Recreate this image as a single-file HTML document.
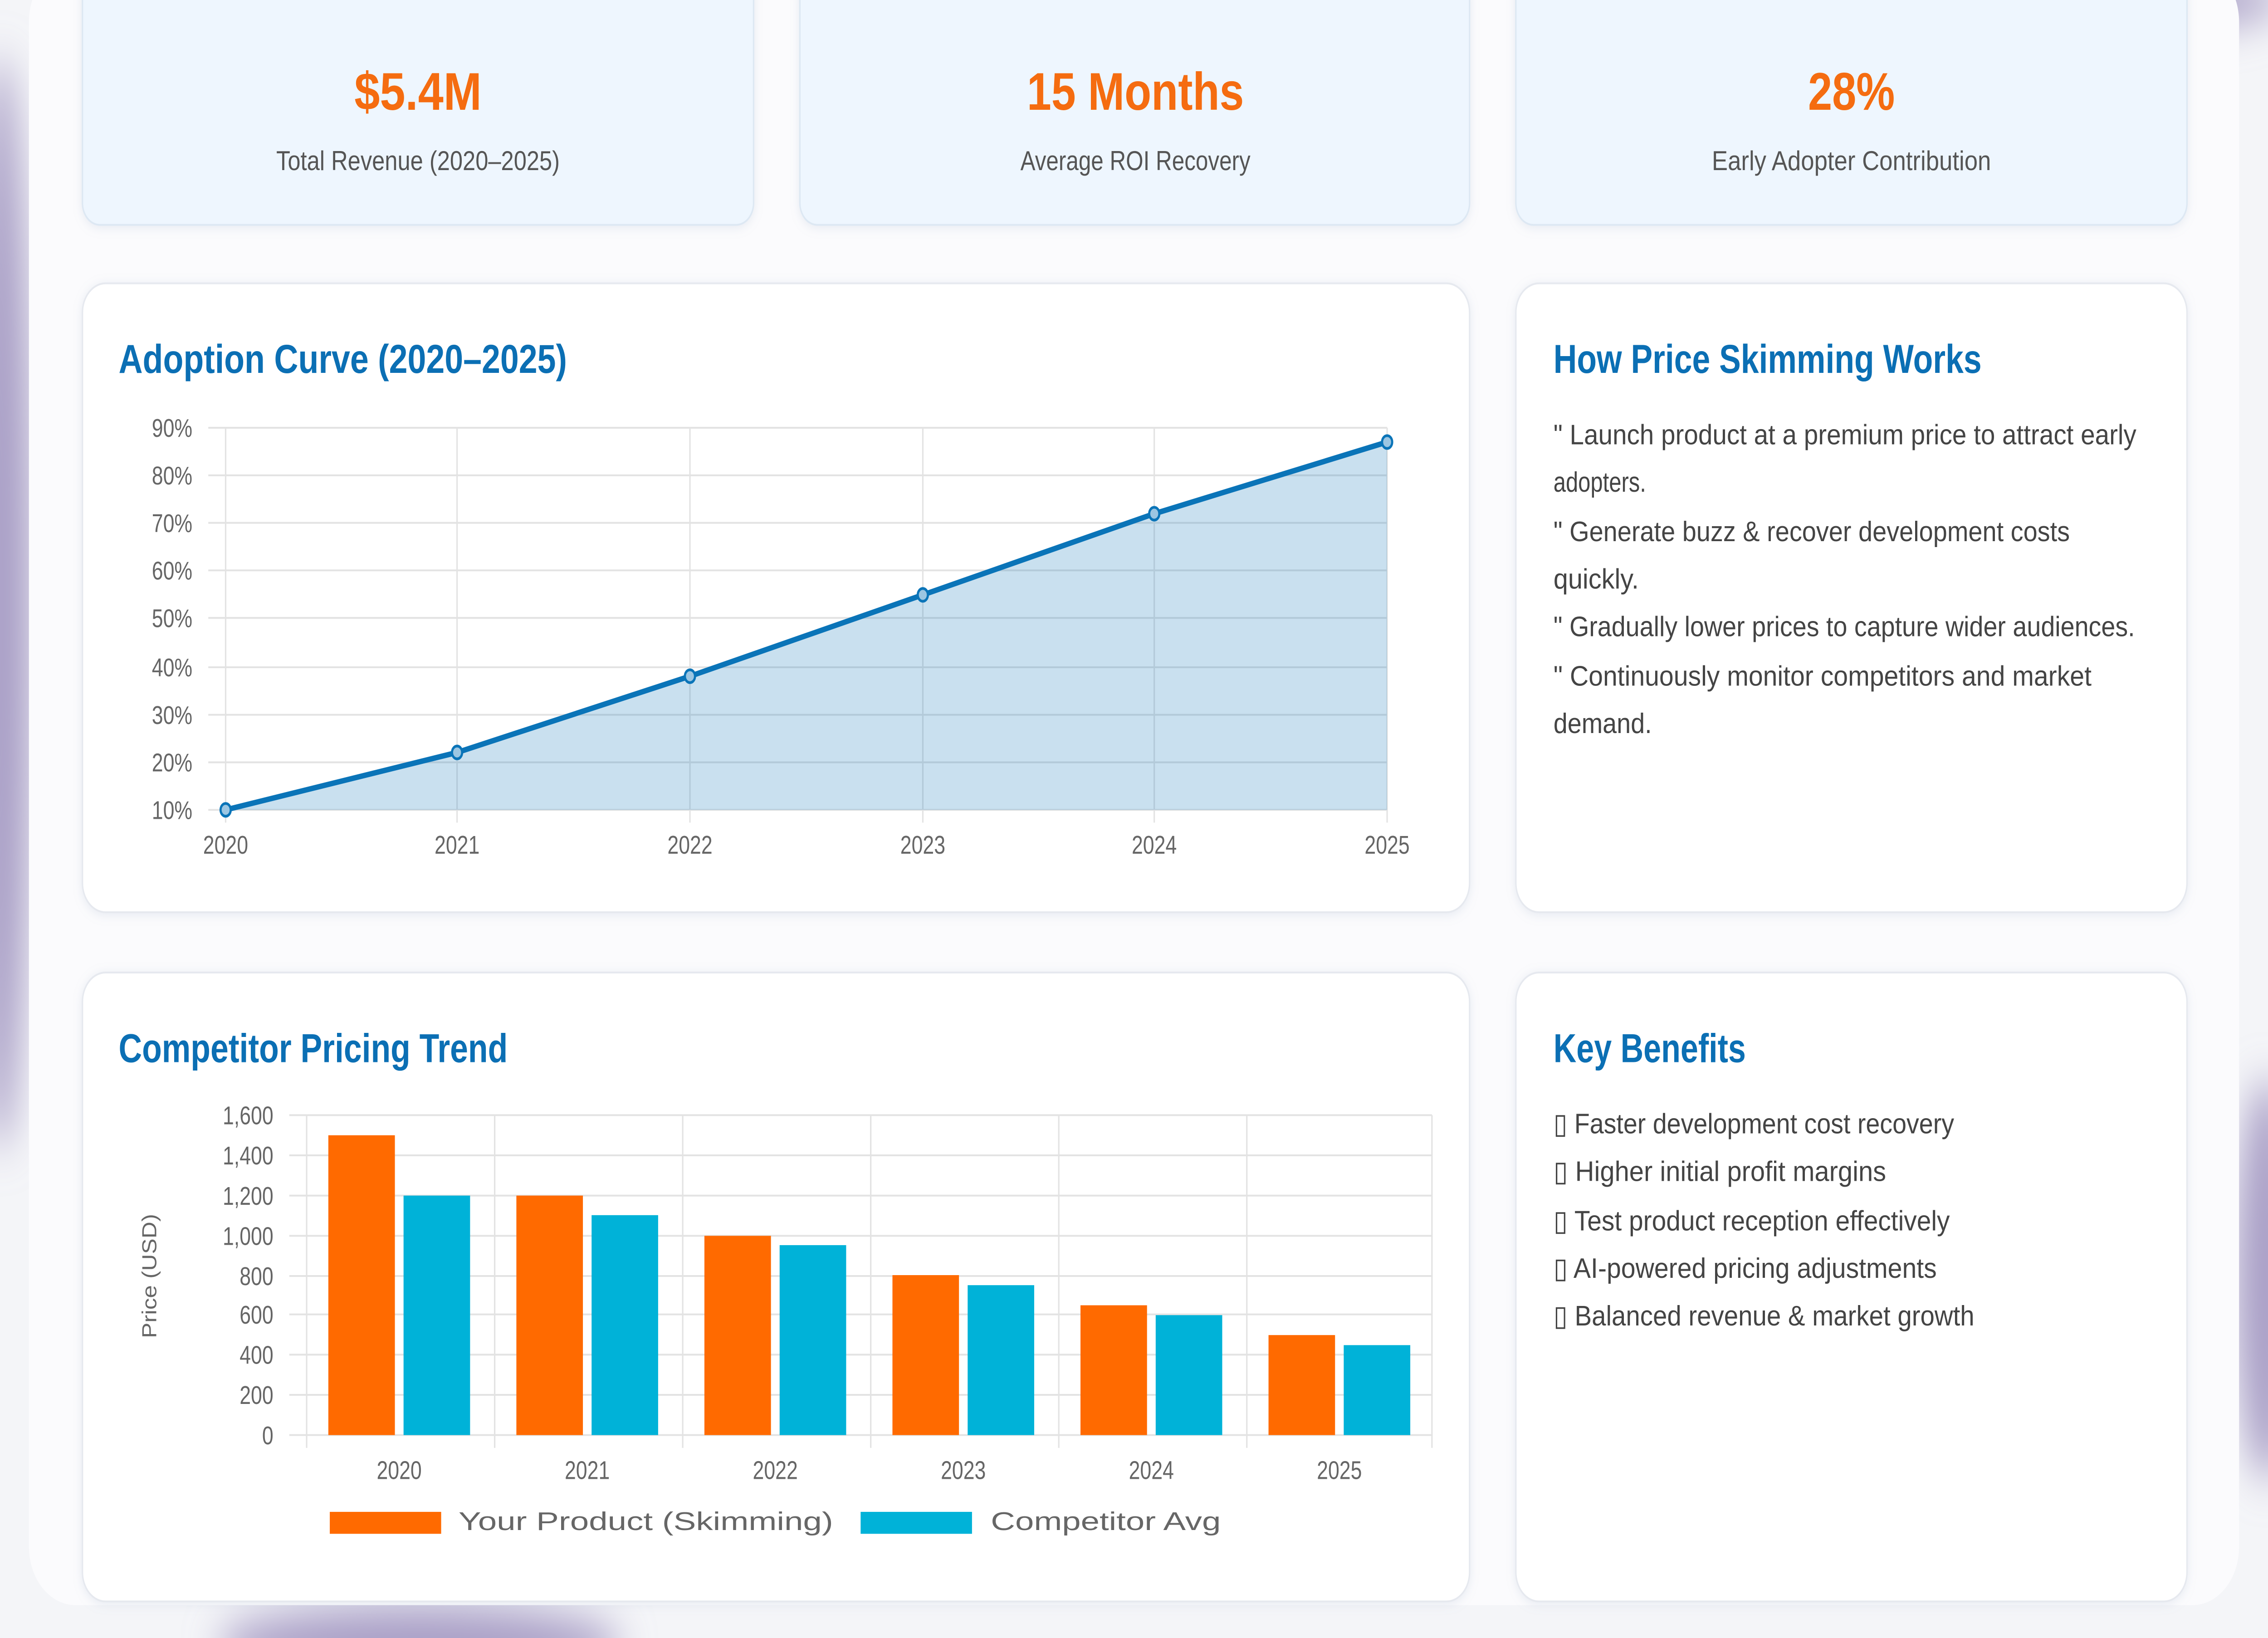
<!DOCTYPE html>
<html><head><meta charset="utf-8"><style>
html,body{margin:0;padding:0;width:100vw;height:100vh;overflow:hidden;background:#f4f5f8}
svg{display:block;width:100vw;height:100vh}
text{font-family:"Liberation Sans",sans-serif}
</style></head><body>
<svg viewBox="0 0 1568 896" preserveAspectRatio="none" xmlns="http://www.w3.org/2000/svg">
<defs>
<filter id="blur" x="-50%" y="-50%" width="200%" height="200%"><feGaussianBlur stdDeviation="12"/></filter>
<filter id="sh" x="-10%" y="-10%" width="120%" height="120%"><feDropShadow dx="0" dy="1" stdDeviation="3" flood-color="#8899bb" flood-opacity="0.18"/></filter>
</defs>
<rect width="1568" height="896" fill="#f4f5f8"/>
<g filter="url(#blur)" fill="#a99fc6">
<ellipse cx="1360" cy="0" rx="220" ry="22"/>
<ellipse cx="0" cy="330" rx="22" ry="300"/>
<ellipse cx="290" cy="900" rx="140" ry="22"/>
<ellipse cx="1568" cy="700" rx="22" ry="110"/>
</g>
<rect x="20" y="-20" width="1528" height="898" rx="32" fill="#fbfbfd"/>
<g filter="url(#sh)">
<rect x="57" y="-14" width="464" height="137" rx="12" fill="#eef6fe" stroke="#dde8f3"/>
<rect x="553" y="-14" width="463" height="137" rx="12" fill="#eef6fe" stroke="#dde8f3"/>
<rect x="1048" y="-14" width="464" height="137" rx="12" fill="#eef6fe" stroke="#dde8f3"/>
</g>
<g font-weight="bold" font-size="29" fill="#f56c10" text-anchor="middle">
<text x="289" y="60" textLength="88" lengthAdjust="spacingAndGlyphs">$5.4M</text>
<text x="785" y="60" textLength="150" lengthAdjust="spacingAndGlyphs">15 Months</text>
<text x="1280" y="60" textLength="60" lengthAdjust="spacingAndGlyphs">28%</text>
</g>
<g font-size="15" fill="#555" text-anchor="middle">
<text x="289" y="93" textLength="196" lengthAdjust="spacingAndGlyphs">Total Revenue (2020–2025)</text>
<text x="785" y="93" textLength="159" lengthAdjust="spacingAndGlyphs">Average ROI Recovery</text>
<text x="1280" y="93" textLength="193" lengthAdjust="spacingAndGlyphs">Early Adopter Contribution</text>
</g>
<g filter="url(#sh)" fill="#fff" stroke="#e6e9ef">
<rect x="57" y="155" width="959" height="344" rx="16"/>
<rect x="1048" y="155" width="464" height="344" rx="16"/>
<rect x="57" y="532" width="959" height="344" rx="16"/>
<rect x="1048" y="532" width="464" height="344" rx="16"/>
</g>
<g font-weight="bold" font-size="22" fill="#0b6fb4">
<text x="82" y="204" textLength="310" lengthAdjust="spacingAndGlyphs">Adoption Curve (2020–2025)</text>
<text x="1074" y="204" textLength="296" lengthAdjust="spacingAndGlyphs">How Price Skimming Works</text>
<text x="82" y="581" textLength="269" lengthAdjust="spacingAndGlyphs">Competitor Pricing Trend</text>
<text x="1074" y="581" textLength="133" lengthAdjust="spacingAndGlyphs">Key Benefits</text>
</g>
<g font-size="15.5" fill="#444">
<text x="1074" y="243" textLength="403" lengthAdjust="spacingAndGlyphs">" Launch product at a premium price to attract early</text>
<text x="1074" y="269" textLength="64" lengthAdjust="spacingAndGlyphs">adopters.</text>
<text x="1074" y="296" textLength="357" lengthAdjust="spacingAndGlyphs">" Generate buzz &amp; recover development costs</text>
<text x="1074" y="322" textLength="59" lengthAdjust="spacingAndGlyphs">quickly.</text>
<text x="1074" y="348" textLength="402" lengthAdjust="spacingAndGlyphs">" Gradually lower prices to capture wider audiences.</text>
<text x="1074" y="375" textLength="372" lengthAdjust="spacingAndGlyphs">" Continuously monitor competitors and market</text>
<text x="1074" y="401" textLength="68" lengthAdjust="spacingAndGlyphs">demand.</text>
<text x="1074" y="620" textLength="277" lengthAdjust="spacingAndGlyphs">▯ Faster development cost recovery</text>
<text x="1074" y="646" textLength="230" lengthAdjust="spacingAndGlyphs">▯ Higher initial profit margins</text>
<text x="1074" y="673" textLength="274" lengthAdjust="spacingAndGlyphs">▯ Test product reception effectively</text>
<text x="1074" y="699" textLength="265" lengthAdjust="spacingAndGlyphs">▯ AI-powered pricing adjustments</text>
<text x="1074" y="725" textLength="291" lengthAdjust="spacingAndGlyphs">▯ Balanced revenue &amp; market growth</text>
</g>
<g stroke="#e3e3e3" stroke-width="1">
<line x1="144" y1="234" x2="959" y2="234"/><line x1="144" y1="260" x2="959" y2="260"/>
<line x1="144" y1="286" x2="959" y2="286"/><line x1="144" y1="312" x2="959" y2="312"/>
<line x1="144" y1="338" x2="959" y2="338"/><line x1="144" y1="365" x2="959" y2="365"/>
<line x1="144" y1="391" x2="959" y2="391"/><line x1="144" y1="417" x2="959" y2="417"/>
<line x1="144" y1="443" x2="959" y2="443"/>
<line x1="156" y1="234" x2="156" y2="450"/><line x1="316" y1="234" x2="316" y2="450"/>
<line x1="477" y1="234" x2="477" y2="450"/><line x1="638" y1="234" x2="638" y2="450"/>
<line x1="798" y1="234" x2="798" y2="450"/><line x1="959" y1="234" x2="959" y2="450"/>
</g>
<path d="M156,443 L316,411.6 L477,369.9 L638,325.4 L798,281 L959,241.8 L959,443 Z" fill="#0a74b8" fill-opacity="0.22"/>
<polyline points="156,443 316,411.6 477,369.9 638,325.4 798,281 959,241.8" fill="none" stroke="#0a74b8" stroke-width="3"/>
<g fill="#9cc6e2" stroke="#0a74b8" stroke-width="1.5">
<circle cx="156" cy="443" r="3.5"/><circle cx="316" cy="411.6" r="3.5"/><circle cx="477" cy="369.9" r="3.5"/>
<circle cx="638" cy="325.4" r="3.5"/><circle cx="798" cy="281" r="3.5"/><circle cx="959" cy="241.8" r="3.5"/>
</g>
<g font-size="14" fill="#666" text-anchor="end">
<text x="133" y="239">90%</text><text x="133" y="265">80%</text><text x="133" y="291">70%</text>
<text x="133" y="317">60%</text><text x="133" y="343">50%</text><text x="133" y="370">40%</text>
<text x="133" y="396">30%</text><text x="133" y="422">20%</text><text x="133" y="448">10%</text>
</g>
<g font-size="14" fill="#666" text-anchor="middle">
<text x="156" y="467">2020</text><text x="316" y="467">2021</text><text x="477" y="467">2022</text>
<text x="638" y="467">2023</text><text x="798" y="467">2024</text><text x="959" y="467">2025</text>
</g>
<g stroke="#e3e3e3" stroke-width="1">
<line x1="200" y1="610" x2="990" y2="610"/><line x1="200" y1="632" x2="990" y2="632"/>
<line x1="200" y1="654" x2="990" y2="654"/><line x1="200" y1="676" x2="990" y2="676"/>
<line x1="200" y1="698" x2="990" y2="698"/><line x1="200" y1="719" x2="990" y2="719"/>
<line x1="200" y1="741" x2="990" y2="741"/><line x1="200" y1="763" x2="990" y2="763"/>
<line x1="200" y1="785" x2="990" y2="785"/>
<line x1="212" y1="610" x2="212" y2="792"/><line x1="342" y1="610" x2="342" y2="792"/>
<line x1="472" y1="610" x2="472" y2="792"/><line x1="602" y1="610" x2="602" y2="792"/>
<line x1="732" y1="610" x2="732" y2="792"/><line x1="862" y1="610" x2="862" y2="792"/>
<line x1="990" y1="610" x2="990" y2="792"/>
</g>
<g fill="#ff6a00">
<rect x="227" y="621" width="46" height="164"/><rect x="357" y="654" width="46" height="131"/>
<rect x="487" y="676" width="46" height="109"/><rect x="617" y="697.5" width="46" height="87.5"/>
<rect x="747" y="714" width="46" height="71"/><rect x="877" y="730.3" width="46" height="54.7"/>
</g>
<g fill="#00b2d8">
<rect x="279" y="654" width="46" height="131"/><rect x="409" y="664.7" width="46" height="120.3"/>
<rect x="539" y="681.1" width="46" height="103.9"/><rect x="669" y="703" width="46" height="82"/>
<rect x="799" y="719.4" width="46" height="65.6"/><rect x="929" y="735.8" width="46" height="49.2"/>
</g>
<g font-size="14" fill="#666" text-anchor="end">
<text x="189" y="615">1,600</text><text x="189" y="637">1,400</text><text x="189" y="659">1,200</text>
<text x="189" y="681">1,000</text><text x="189" y="703">800</text><text x="189" y="724">600</text>
<text x="189" y="746">400</text><text x="189" y="768">200</text><text x="189" y="790">0</text>
</g>
<g font-size="14" fill="#666" text-anchor="middle">
<text x="276" y="809">2020</text><text x="406" y="809">2021</text><text x="536" y="809">2022</text>
<text x="666" y="809">2023</text><text x="796" y="809">2024</text><text x="926" y="809">2025</text>
</g>
<text x="0" y="0" font-size="14" fill="#666" text-anchor="middle" transform="translate(108,698) rotate(-90)" textLength="68" lengthAdjust="spacingAndGlyphs">Price (USD)</text>
<rect x="228" y="827" width="77" height="12" fill="#ff6a00"/>
<text x="317" y="837" font-size="14" fill="#666" textLength="259" lengthAdjust="spacingAndGlyphs">Your Product (Skimming)</text>
<rect x="595" y="827" width="77" height="12" fill="#00b2d8"/>
<text x="685" y="837" font-size="14" fill="#666" textLength="159" lengthAdjust="spacingAndGlyphs">Competitor Avg</text>
</svg>
</body></html>
